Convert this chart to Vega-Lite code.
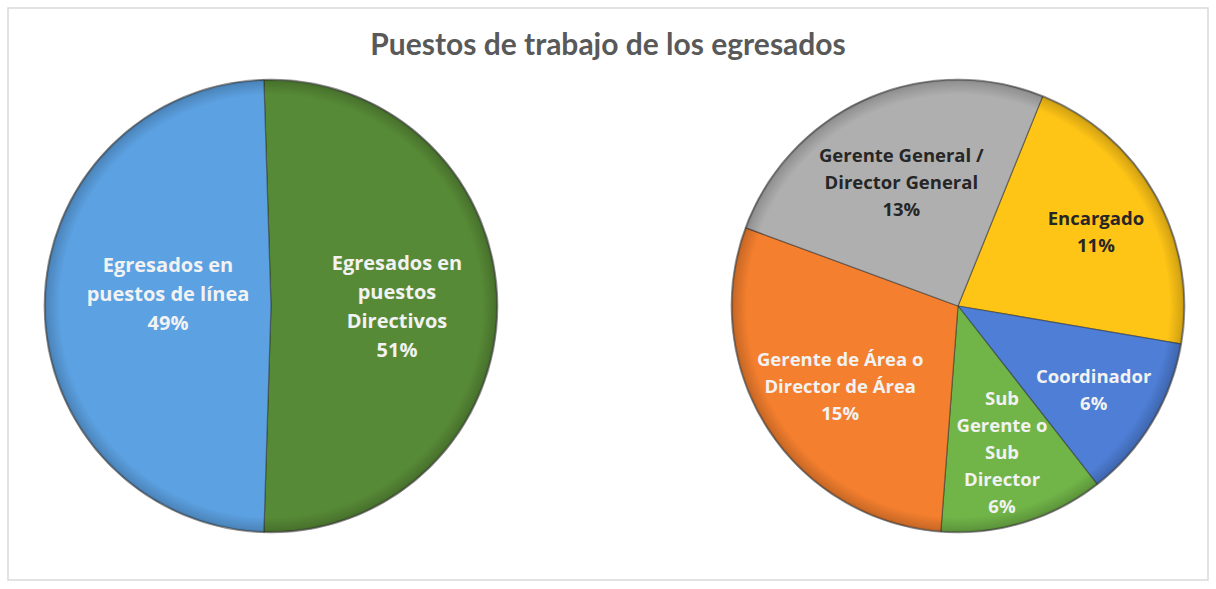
{
  "$schema": "https://vega.github.io/schema/vega-lite/v6.json",
  "width": 1216,
  "height": 589,
  "autosize": {"type": "fit", "contains": "padding"},
  "padding": {"left": 8, "right": 8, "top": 8, "bottom": 9},
  "background": "white",
  "title": {
    "text": "Puestos de trabajo de los egresados",
    "anchor": "middle",
    "offset": -53,
    "font": "Lato",
    "fontSize": 30,
    "fontWeight": "bold",
    "color": "#595959"
  },
  "config": {"view": {"stroke": "#D9D9D9", "strokeWidth": 1.5}},
  "datasets": {
    "primary": [
      {"categoria": "Egresados en puestos Directivos", "etiqueta": "Egresados en\npuestos\nDirectivos\n51%", "porcentaje": 51, "orden": 1, "oscuro": false},
      {"categoria": "Egresados en puestos de línea", "etiqueta": "Egresados en\npuestos de línea\n49%", "porcentaje": 49, "orden": 2, "oscuro": false}
    ],
    "secondary": [
      {"categoria": "Encargado", "etiqueta": "Encargado\n11%", "porcentaje": 11, "orden": 1, "oscuro": true},
      {"categoria": "Coordinador", "etiqueta": "Coordinador\n6%", "porcentaje": 6, "orden": 2, "oscuro": false},
      {"categoria": "Sub Gerente o Sub Director", "etiqueta": "Sub\nGerente o\nSub\nDirector\n6%", "porcentaje": 6, "orden": 3, "oscuro": false},
      {"categoria": "Gerente de Área o Director de Área", "etiqueta": "Gerente de Área o\nDirector de Área\n15%", "porcentaje": 15, "orden": 4, "oscuro": false},
      {"categoria": "Gerente General / Director General", "etiqueta": "Gerente General /\nDirector General\n13%", "porcentaje": 13, "orden": 5, "oscuro": true}
    ],
    "pies": [
      {"pie": "primario", "posicion": 0},
      {"pie": "secundario", "posicion": 1}
    ]
  },
  "resolve": {"scale": {"theta": "independent"}},
  "layer": [
    {
      "mark": {"type": "rule", "color": "#D0D0D0", "strokeWidth": 1.5},
      "encoding": {
        "x": {"datum": 0, "type": "quantitative", "scale": {"domain": [-0.3828, 1.3639], "nice": false, "zero": false}, "axis": null},
        "x2": {"datum": 1},
        "y": {"datum": 1, "type": "quantitative", "scale": {"domain": [-1.2124, 1.3186], "nice": false, "zero": false}, "axis": null}
      }
    },
    {
      "mark": {"type": "rule", "color": "#D0D0D0", "strokeWidth": 1.5},
      "encoding": {
        "x": {"datum": 0, "type": "quantitative", "axis": null},
        "x2": {"datum": 1},
        "y": {"datum": -1, "type": "quantitative", "axis": null}
      }
    },
    {
      "data": {"name": "primary"},
      "mark": {"type": "arc", "radius": 226, "stroke": "#2a2a2a", "strokeOpacity": 0.5, "strokeWidth": 1.2},
      "encoding": {
        "x": {"datum": 0, "type": "quantitative", "axis": null},
        "y": {"datum": 0, "type": "quantitative", "axis": null},
        "theta": {"field": "porcentaje", "type": "quantitative", "stack": true, "scale": {"range": [-0.0314, 6.2518]}},
        "order": {"field": "orden"},
        "color": {
          "field": "categoria",
          "type": "nominal",
          "legend": null,
          "scale": {
            "domain": ["Egresados en puestos de línea", "Egresados en puestos Directivos", "Encargado", "Coordinador", "Sub Gerente o Sub Director", "Gerente de Área o Director de Área", "Gerente General / Director General"],
            "range": ["#5CA1E2", "#578A36", "#FFC516", "#4E7ED6", "#71B548", "#F47F2E", "#AFAFAF"]
          }
        }
      }
    },
    {
      "data": {"name": "secondary"},
      "mark": {"type": "arc", "radius": 226, "stroke": "#2a2a2a", "strokeOpacity": 0.5, "strokeWidth": 1.2},
      "encoding": {
        "x": {"datum": 1, "type": "quantitative", "axis": null},
        "y": {"datum": 0, "type": "quantitative", "axis": null},
        "theta": {"field": "porcentaje", "type": "quantitative", "stack": true, "scale": {"range": [0.384, 6.667]}},
        "order": {"field": "orden"},
        "color": {"field": "categoria", "type": "nominal", "legend": null}
      }
    },
    {
      "data": {"name": "pies"},
      "mark": {
        "type": "arc",
        "radius": 227,
        "theta": 0,
        "theta2": 6.2832,
        "fill": {
          "gradient": "radial",
          "x1": 0.5, "y1": 0.5, "r1": 0,
          "x2": 0.5, "y2": 0.5, "r2": 0.5,
          "stops": [
            {"offset": 0, "color": "rgba(0,0,0,0)"},
            {"offset": 0.93, "color": "rgba(0,0,0,0)"},
            {"offset": 0.985, "color": "rgba(0,0,0,0.16)"},
            {"offset": 1, "color": "rgba(0,0,0,0.3)"}
          ]
        },
        "stroke": "#3a3a3a",
        "strokeOpacity": 0.35,
        "strokeWidth": 1
      },
      "encoding": {
        "x": {"field": "posicion", "type": "quantitative", "axis": null},
        "y": {"datum": 0, "type": "quantitative", "axis": null}
      }
    },
    {
      "data": {"name": "primary"},
      "layer": [
        {
          "mark": {"type": "text", "radius": 103, "dy": -40, "font": "Open Sans", "fontSize": 20, "fontWeight": "bold", "lineBreak": "\n", "lineHeight": 29, "align": "center", "baseline": "middle", "color": "#F2F2F2"},
          "encoding": {
            "x": {"datum": 0, "type": "quantitative", "axis": null},
            "y": {"datum": 0, "type": "quantitative", "axis": null},
            "theta": {"field": "porcentaje", "type": "quantitative", "stack": true, "scale": {"range": [-0.0314, 6.2518]}},
            "order": {"field": "orden"},
            "text": {"condition": {"test": "length(split(datum.etiqueta, '\\n')) == 3", "field": "etiqueta"}, "value": ""}
          }
        },
        {
          "mark": {"type": "text", "radius": 126, "dy": -42, "font": "Open Sans", "fontSize": 20, "fontWeight": "bold", "lineBreak": "\n", "lineHeight": 29, "align": "center", "baseline": "middle", "color": "#F2F2F2"},
          "encoding": {
            "x": {"datum": 0, "type": "quantitative", "axis": null},
            "y": {"datum": 0, "type": "quantitative", "axis": null},
            "theta": {"field": "porcentaje", "type": "quantitative", "stack": true, "scale": {"range": [-0.0314, 6.2518]}},
            "order": {"field": "orden"},
            "text": {"condition": {"test": "length(split(datum.etiqueta, '\\n')) == 4", "field": "etiqueta"}, "value": ""}
          }
        }
      ]
    },
    {
      "data": {"name": "secondary"},
      "layer": [
        {
          "mark": {"type": "text", "radius": 158, "dy": -10, "font": "Open Sans", "fontSize": 18.5, "fontWeight": "bold", "lineBreak": "\n", "lineHeight": 27, "align": "center", "baseline": "middle"},
          "encoding": {
            "x": {"datum": 1, "type": "quantitative", "axis": null},
            "y": {"datum": 0, "type": "quantitative", "axis": null},
            "theta": {"field": "porcentaje", "type": "quantitative", "stack": true, "scale": {"range": [0.384, 6.667]}},
            "order": {"field": "orden"},
            "text": {"condition": {"test": "length(split(datum.etiqueta, '\\n')) == 2", "field": "etiqueta"}, "value": ""},
            "color": {"condition": {"test": "datum.oscuro", "value": "#262626"}, "value": "#F2F2F2"}
          }
        },
        {
          "mark": {"type": "text", "radius": 140, "dy": -22, "font": "Open Sans", "fontSize": 18.5, "fontWeight": "bold", "lineBreak": "\n", "lineHeight": 27, "align": "center", "baseline": "middle"},
          "encoding": {
            "x": {"datum": 1, "type": "quantitative", "axis": null},
            "y": {"datum": 0, "type": "quantitative", "axis": null},
            "theta": {"field": "porcentaje", "type": "quantitative", "stack": true, "scale": {"range": [0.384, 6.667]}},
            "order": {"field": "orden"},
            "text": {"condition": {"test": "length(split(datum.etiqueta, '\\n')) == 3", "field": "etiqueta"}, "value": ""},
            "color": {"condition": {"test": "datum.oscuro", "value": "#262626"}, "value": "#F2F2F2"}
          }
        },
        {
          "mark": {"type": "text", "radius": 152, "dy": -52, "font": "Open Sans", "fontSize": 18.5, "fontWeight": "bold", "lineBreak": "\n", "lineHeight": 27, "align": "center", "baseline": "middle"},
          "encoding": {
            "x": {"datum": 1, "type": "quantitative", "axis": null},
            "y": {"datum": 0, "type": "quantitative", "axis": null},
            "theta": {"field": "porcentaje", "type": "quantitative", "stack": true, "scale": {"range": [0.384, 6.667]}},
            "order": {"field": "orden"},
            "text": {"condition": {"test": "length(split(datum.etiqueta, '\\n')) == 5", "field": "etiqueta"}, "value": ""},
            "color": {"condition": {"test": "datum.oscuro", "value": "#262626"}, "value": "#F2F2F2"}
          }
        }
      ]
    }
  ]
}
